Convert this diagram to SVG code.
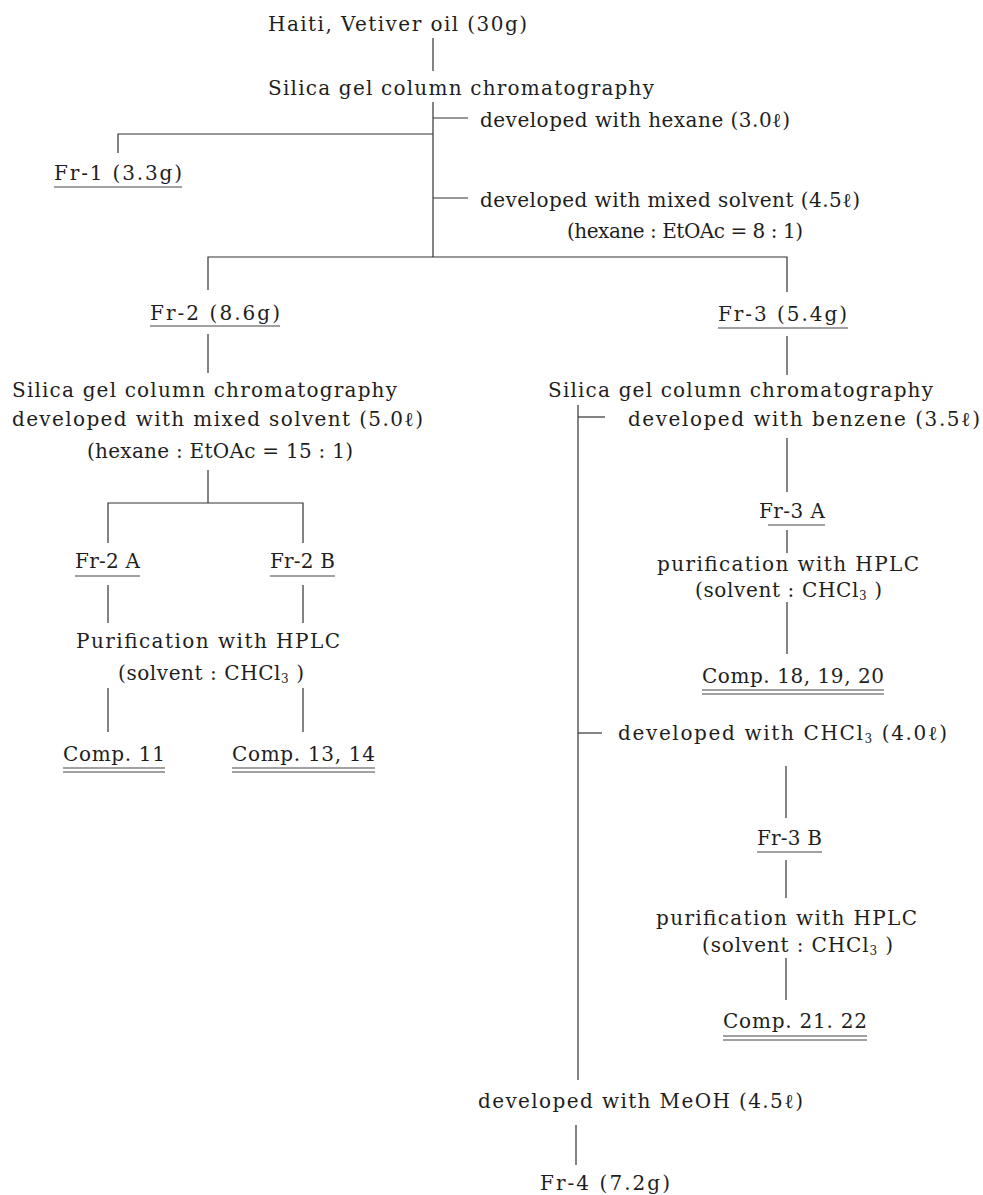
<svg xmlns="http://www.w3.org/2000/svg" width="983" height="1195" viewBox="0 0 983 1195">
<style>
text{font-family:"DejaVu Serif","Liberation Serif",serif;font-size:20px;fill:#1e1e1e}
.sub{font-size:12px}
.ln{stroke:#333;stroke-width:1.2;fill:none}
.ul{stroke:#444;stroke-width:1.1;fill:none}
</style>
<rect width="983" height="1195" fill="#fff"/>
<g id="connectors">
<path class="ln" d="M433,38V71"/>
<path class="ln" d="M433,102V257"/>
<path class="ln" d="M433,118H468"/>
<path class="ln" d="M433,134H118V153"/>
<path class="ln" d="M433,198H468"/>
<path class="ln" d="M208,290V257H787V292"/>
<path class="ln" d="M208,334V373"/>
<path class="ln" d="M787,336V375"/>
<path class="ln" d="M208,470V503"/>
<path class="ln" d="M108,543V503H303V543"/>
<path class="ln" d="M108,585V623M303,585V623"/>
<path class="ln" d="M108,688V732M303,688V732"/>
<path class="ln" d="M578,405V1080"/>
<path class="ln" d="M578,417H605"/>
<path class="ln" d="M787,438V492"/>
<path class="ln" d="M787,530V553"/>
<path class="ln" d="M787,602V654"/>
<path class="ln" d="M578,733H602"/>
<path class="ln" d="M786,766V818"/>
<path class="ln" d="M786,860V898"/>
<path class="ln" d="M786,958V1000"/>
<path class="ln" d="M576,1125V1165"/>
</g>
<g id="n-oil"><text x="268" y="31" textLength="259" lengthAdjust="spacing">Haiti, Vetiver oil (30g)</text></g>
<g id="n-col1"><text x="268" y="95" textLength="386" lengthAdjust="spacing">Silica gel column chromatography</text></g>
<g id="l-hexane"><text x="480" y="127" textLength="310" lengthAdjust="spacing">developed with hexane (3.0ℓ)</text></g>
<g id="l-mixed1">
<text x="480" y="207" textLength="380" lengthAdjust="spacing">developed with mixed solvent (4.5ℓ)</text>
<text x="567" y="238" textLength="236" lengthAdjust="spacing">(hexane : EtOAc = 8 : 1)</text>
</g>
<g id="n-fr1"><text x="54" y="180" textLength="128" lengthAdjust="spacing">Fr-1 (3.3g)</text><path class="ul" d="M54,187H182"/></g>
<g id="n-fr2"><text x="150" y="320" textLength="130" lengthAdjust="spacing">Fr-2 (8.6g)</text><path class="ul" d="M150,326H280"/></g>
<g id="n-fr3"><text x="718" y="321" textLength="129" lengthAdjust="spacing">Fr-3 (5.4g)</text><path class="ul" d="M718,328H848"/></g>
<g id="n-col2">
<text x="12" y="397" textLength="385" lengthAdjust="spacing">Silica gel column chromatography</text>
<text x="12" y="426" textLength="411" lengthAdjust="spacing">developed with mixed solvent (5.0ℓ)</text>
<text x="87" y="458" textLength="266" lengthAdjust="spacing">(hexane : EtOAc = 15 : 1)</text>
</g>
<g id="n-fr2a"><text x="75" y="568" textLength="65" lengthAdjust="spacing">Fr-2 A</text><path class="ul" d="M75,576H140"/></g>
<g id="n-fr2b"><text x="270" y="568" textLength="65" lengthAdjust="spacing">Fr-2 B</text><path class="ul" d="M270,576H335"/></g>
<g id="n-hplc1">
<text x="76" y="648" textLength="264" lengthAdjust="spacing">Purification with HPLC</text>
<text x="118" y="680" textLength="186" lengthAdjust="spacing">(solvent : CHCl<tspan class="sub" dy="3">3</tspan><tspan dy="-3"> )</tspan></text>
</g>
<g id="n-c11"><text x="63" y="761" textLength="102" lengthAdjust="spacing">Comp. 11</text><path class="ul" d="M63,768H165M63,772H165"/></g>
<g id="n-c1314"><text x="232" y="761" textLength="143" lengthAdjust="spacing">Comp. 13, 14</text><path class="ul" d="M232,768H375M232,772H375"/></g>
<g id="n-col3"><text x="548" y="397" textLength="385" lengthAdjust="spacing">Silica gel column chromatography</text></g>
<g id="l-benzene"><text x="628" y="426" textLength="352" lengthAdjust="spacing">developed with benzene (3.5ℓ)</text></g>
<g id="n-fr3a"><text x="759" y="518" textLength="66" lengthAdjust="spacing">Fr-3 A</text><path class="ul" d="M768,525H825"/></g>
<g id="n-hplc2">
<text x="657" y="571" textLength="262" lengthAdjust="spacing">purification with HPLC</text>
<text x="695" y="597" textLength="187" lengthAdjust="spacing">(solvent : CHCl<tspan class="sub" dy="3">3</tspan><tspan dy="-3"> )</tspan></text>
</g>
<g id="n-c181920"><text x="702" y="683" textLength="182" lengthAdjust="spacing">Comp. 18, 19, 20</text><path class="ul" d="M702,690H884M702,694H884"/></g>
<g id="l-chcl3"><text x="618" y="740" textLength="329" lengthAdjust="spacing">developed with CHCl<tspan class="sub" dy="3">3</tspan><tspan dy="-3"> (4.0ℓ)</tspan></text></g>
<g id="n-fr3b"><text x="757" y="845" textLength="65" lengthAdjust="spacing">Fr-3 B</text><path class="ul" d="M757,852H822"/></g>
<g id="n-hplc3">
<text x="656" y="925" textLength="261" lengthAdjust="spacing">purification with HPLC</text>
<text x="702" y="952" textLength="191" lengthAdjust="spacing">(solvent : CHCl<tspan class="sub" dy="3">3</tspan><tspan dy="-3"> )</tspan></text>
</g>
<g id="n-c2122"><text x="723" y="1028" textLength="144" lengthAdjust="spacing">Comp. 21. 22</text><path class="ul" d="M723,1036H867M723,1040H867"/></g>
<g id="l-meoh"><text x="478" y="1108" textLength="325" lengthAdjust="spacing">developed with MeOH (4.5ℓ)</text></g>
<g id="n-fr4"><text x="540" y="1190" textLength="130" lengthAdjust="spacing">Fr-4 (7.2g)</text></g>
</svg>
